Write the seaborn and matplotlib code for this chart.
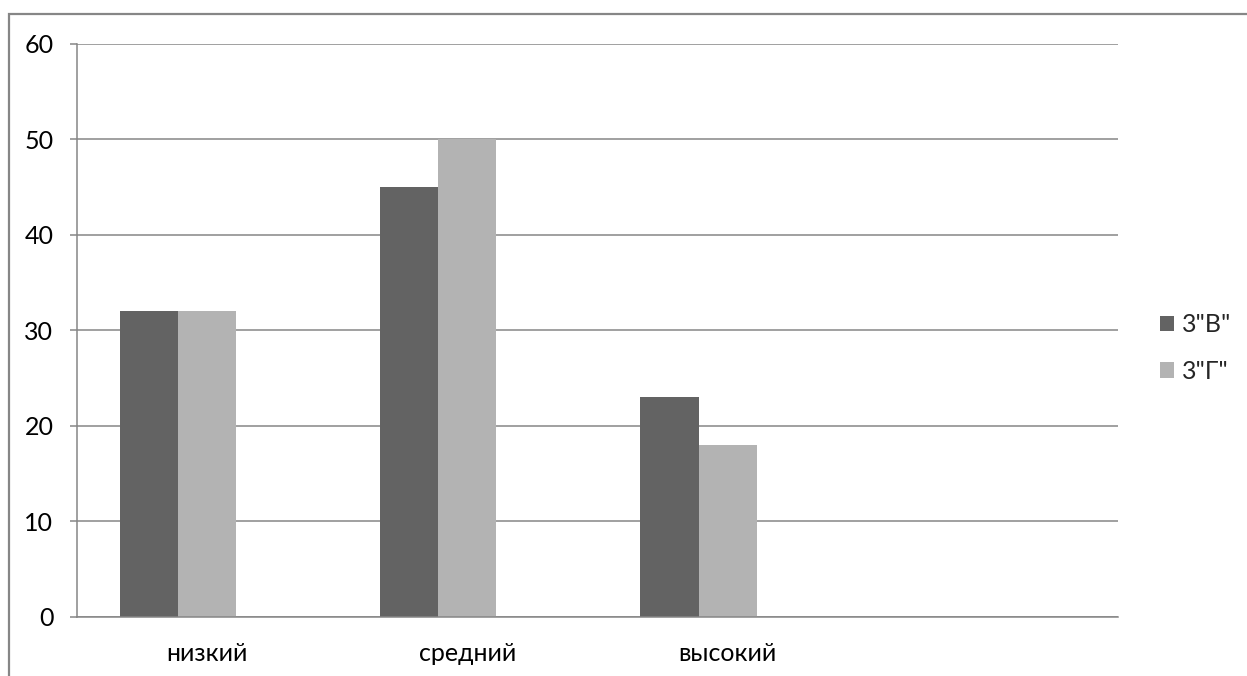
import matplotlib
matplotlib.use("Agg")
import matplotlib.pyplot as plt
from matplotlib.patches import Patch, Rectangle
import numpy as np
import pandas as pd
import seaborn as sns

categories = ["низкий", "средний", "высокий", ""]
series_names = ['3"В"', '3"Г"', "_empty"]
values_v = [32, 45, 23, np.nan]
values_g = [32, 50, 18, np.nan]
values_empty = [np.nan, np.nan, np.nan, np.nan]
colors = ["#636363", "#b3b3b3", "#ffffff"]
yticks = [0, 10, 20, 30, 40, 50, 60]

rows = []
for name, vals in zip(series_names, [values_v, values_g, values_empty]):
    for c, v in zip(categories, vals):
        rows.append({"cat": c, "series": name, "value": v})
df = pd.DataFrame(rows)

sns.set_theme(style="white")
plt.rcParams["font.family"] = ["Lato", "DejaVu Sans"]
FS = 18

fig = plt.figure(figsize=(12.47, 6.76), dpi=100)
ax = fig.add_axes([77 / 1247, 1 - 617 / 676, (1118 - 77) / 1247, (617 - 43.5) / 676])

sns.barplot(data=df, x="cat", y="value", hue="series", order=categories,
            hue_order=series_names, palette=colors, saturation=1,
            width=0.67, linewidth=0, errorbar=None, legend=False, ax=ax)

grid_c = "#868686"
ax.set_xlim(-0.5, len(categories) - 0.5)
ax.set_ylim(0, 60)
ax.set_yticks(yticks)
ax.set_yticklabels([str(t) for t in yticks], fontsize=FS, color="black")
ax.yaxis.grid(True, color=grid_c, linewidth=1.1)
ax.xaxis.grid(False)
ax.set_axisbelow(True)
ax.set_xlabel("")
ax.set_ylabel("")

ax.set_xticks(range(len(categories)))
ax.set_xticklabels(categories, fontsize=FS, color="black")
ax.set_xticks(np.arange(-0.5, len(categories), 1.0), minor=True)
ax.tick_params(axis="x", which="major", length=0, pad=18)
ax.tick_params(axis="x", which="minor", length=5, width=1.1, color=grid_c, direction="out")
ax.tick_params(axis="y", which="major", length=5, width=1.1, color=grid_c, direction="out", pad=12, left=True)

for s in ["top", "right"]:
    ax.spines[s].set_visible(False)
for s in ["left", "bottom"]:
    ax.spines[s].set_visible(True)
    ax.spines[s].set_color(grid_c)
    ax.spines[s].set_linewidth(1.1)

handles = [Patch(facecolor=colors[0], edgecolor="none"),
           Patch(facecolor=colors[1], edgecolor="none")]
fig.legend(handles, series_names[:2], loc="center left",
           bbox_to_anchor=(1160 / 1247, 1 - 348 / 676), frameon=False,
           fontsize=FS, handlelength=0.56, handleheight=0.56,
           handletextpad=0.3, labelspacing=0.95, borderaxespad=0,
           borderpad=0)

fig.patches.append(Rectangle((9 / 1247, -0.1), 1.2, 1 - 14 / 676 + 0.1,
                             transform=fig.transFigure, fill=False,
                             edgecolor=grid_c, linewidth=1.6))

fig.savefig("out.png", dpi=100)
